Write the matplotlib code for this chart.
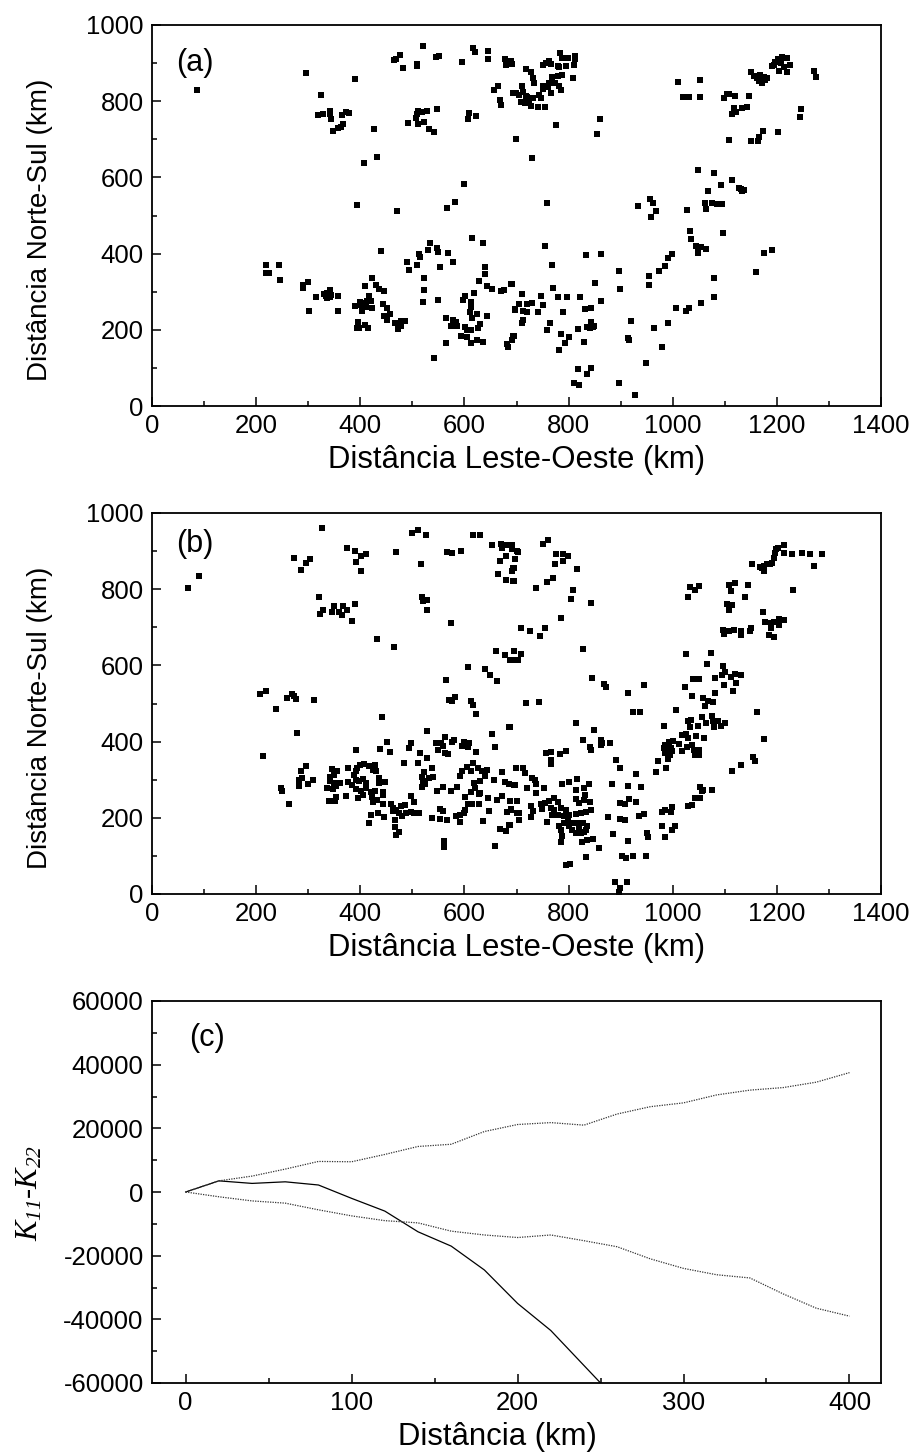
import matplotlib
matplotlib.use("Agg")
import matplotlib.pyplot as plt
from matplotlib.ticker import MultipleLocator

plt.rcParams['font.family'] = ['Liberation Sans', 'DejaVu Sans']
plt.rcParams['axes.unicode_minus'] = False
plt.rcParams['mathtext.fontset'] = 'custom'
plt.rcParams['mathtext.it'] = 'Liberation Serif:italic'
plt.rcParams['mathtext.rm'] = 'Liberation Serif:italic'

points_a = [
(86,829),(295,874),(389,858),(464,908),(468,912),(476,920),(482,888),(520,944),(508,893),(509,898),(545,916),(552,919),(595,904),(617,940),(621,929),(645,932),(646,911),(677,912),(689,906),(679,895),(692,897),
(324,816),(319,763),(329,766),(341,775),(342,766),(344,753),(364,764),(373,772),(379,768),(367,741),(363,732),(357,729),(348,722),(427,726),(433,654),(408,638),
(510,774),(509,766),(519,771),(528,773),(547,780),(492,744),(507,755),(511,739),(522,745),(532,726),(542,718),(609,769),(607,753),(622,761),(657,829),(664,840),(694,822),(699,821),(669,802),(671,789),(699,702),
(600,583),(581,536),(567,519),(393,528),(470,512),(614,441),(635,428),(219,371),(243,369),(219,348),(225,348),(245,330),
(440,406),(534,428),(531,410),(547,416),(549,405),(513,398),(514,391),(569,401),(490,377),(494,358),(508,369),(579,378),(554,364),(522,337),(523,305),(521,273),(549,278),
(639,364),(639,346),(628,329),(643,314),(653,307),(671,301),(676,305),(690,320),(619,296),(602,288),(598,278),(612,273),(612,261),(611,247),(625,242),(643,235),(614,232),
(300,326),(290,318),(290,309),(314,286),(301,250),(357,250),(358,290),(330,294),(334,288),(337,296),(342,305),(344,292),(337,283),(342,285),
(423,336),(410,315),(431,317),(436,308),(446,303),(390,263),(399,274),(408,270),(416,288),(421,276),(413,276),(401,264),(404,250),(422,257),(411,261),
(444,267),(452,257),(457,241),(445,236),(452,225),(467,219),(479,224),(485,222),(478,211),(473,202),(469,218),(395,220),(393,204),(398,206),(409,212),(415,204),
(565,230),(579,226),(584,220),(575,211),(585,210),(602,208),(605,200),(612,200),(629,215),(626,204),(593,183),(605,182),(613,165),(625,172),(635,169),(564,165),(542,126),
(697,253),(694,184),(692,173),(681,163),(683,155),
(783,926),(788,914),(798,914),(813,919),(812,910),(811,895),(796,893),(779,893),(782,891),(763,905),(756,899),(750,895),(766,897),(718,884),(728,876),(731,862),(733,849),(809,862),(788,869),(779,866),(769,864),(768,856),(763,847),(750,841),(750,832),(761,838),(774,847),(781,841),(785,829),(766,821),(743,816),(747,808),
(710,841),(696,822),(705,816),(713,823),(718,814),(708,797),(717,794),(724,803),(731,808),(728,788),(741,784),(755,786),(721,812),(775,738),(860,753),(855,715),(729,651),
(758,534),(754,421),(768,369),(833,397),(862,399),(896,354),(851,324),(899,307),(691,321),(770,310),(710,294),(747,289),(780,286),(797,285),(821,286),(698,254),(705,267),(721,268),(729,271),(750,266),(713,250),(720,246),(741,248),(790,246),(831,254),(844,258),(862,275),
(712,226),(710,218),(764,217),(759,199),(786,189),(801,182),(793,166),(781,147),(819,203),(830,169),(836,208),(844,220),(846,207),(841,206),(849,209),(695,185),
(818,98),(843,99),(835,85),(811,61),(820,54),(897,60),(928,30),(949,113),(979,156),(920,223),(964,205),(915,178),(916,174),(991,219),(1006,258),(1031,257),(1026,249),(1055,270),(1080,285),(1079,336),
(954,340),(954,317),(974,354),(985,368),(990,388),(998,399),(1034,459),(1035,439),(1045,419),(1055,418),(1064,413),(1049,407),(1049,401),(1096,453),(1159,351),(1175,402),(1191,410),
(1027,514),(1062,533),(1075,534),(1063,517),(1086,529),(1094,531),(1068,564),(1093,581),(1113,593),(1048,620),(1079,612),(1127,573),(1131,570),(1136,567),(1133,565),(956,544),(963,533),(934,524),(968,512),(958,496),
(1011,850),(1053,855),(1020,810),(1032,812),(1052,812),(1098,808),(1105,818),(1109,818),(1119,814),(1146,813),(1117,783),(1122,771),(1113,766),(1133,781),(1143,785),(1108,697),(1150,696),(1163,696),(1166,705),(1173,723),(1202,718),(1246,780),(1245,759),(1271,880),(1275,864),
(1151,876),(1156,867),(1162,860),(1168,869),(1175,864),(1178,856),(1172,847),(1165,853),(1181,860),(1170,856),(1197,904),(1194,895),(1210,917),(1220,914),(1202,911),(1207,899),(1226,895),(1220,877),(1204,879),(1213,891),(1191,893),
]

points_b = [
(70,802),(90,835),(327,960),(273,883),(304,878),(296,868),(287,851),(374,908),(390,899),(401,888),(411,892),(391,872),(401,847),(468,898),(500,947),(511,955),(527,942),(517,865),(567,898),(576,896),(593,901),(617,943),(629,941),(652,916),
(671,919),(676,917),(673,908),(688,917),(692,906),(679,886),(668,873),(697,879),(693,856),(692,847),(665,841),(679,823),(695,821),(701,899),
(320,779),(328,746),(323,735),(350,757),(366,757),(389,760),(345,739),(360,740),(374,746),(364,731),(385,716),(432,669),(465,648),(518,779),(521,768),(529,772),(529,745),(574,710),
(660,639),(677,627),(688,613),(696,638),(701,613),(607,595),(639,591),(650,576),(662,558),(565,561),(570,509),(577,506),(581,517),(612,506),(616,497),(623,473),
(207,524),(218,534),(239,486),(260,514),(269,525),(276,513),(273,519),(311,508),(278,423),(214,363),(442,464),(529,429),(653,419),(686,438),
(392,379),(438,381),(451,399),(457,374),(497,396),(494,382),(514,369),(528,357),(545,397),(555,396),(562,412),(558,388),(549,379),(580,405),(577,398),(563,370),(569,367),(599,399),(596,388),(609,397),(607,385),(622,373),(659,385),
(483,344),(511,344),(537,330),(523,319),(519,306),(521,296),(532,305),(539,307),(524,289),(519,280),(547,270),(559,280),(575,270),(585,280),
(296,335),(287,324),(289,304),(282,298),(282,284),(299,290),(310,298),(248,279),(250,271),(264,237),
(346,328),(355,324),(350,313),(341,306),(342,296),(350,291),(362,291),(337,278),(347,276),(354,283),(354,254),(339,245),(352,245),(373,258),
(377,332),(394,331),(399,338),(408,341),(417,335),(429,339),(392,322),(387,313),(431,322),(424,326),(435,304),(436,291),(447,294),(376,294),(384,285),(392,300),(398,296),(405,303),(411,291),(392,276),(401,270),(411,278),(406,259),(395,252),(420,268),(429,271),(443,268),(422,254),(443,261),(433,248),(424,241),(444,235),
(459,237),(462,226),(468,221),(478,230),(486,233),(462,217),(475,213),(481,204),(487,213),(497,215),(504,213),(513,213),(498,256),(504,241),(420,207),(434,212),(446,202),(416,186),(466,193),(466,175),(475,162),(468,154),
(537,200),(553,224),(558,217),(553,198),(566,195),(583,206),(591,208),(599,213),(602,221),(606,235),(615,236),(628,237),(602,255),(628,263),(592,189),(560,140),(560,123),(635,191),(647,218),(658,125),(669,171),(679,166),(686,181),
(591,309),(596,322),(604,333),(617,343),(612,322),(627,331),(634,322),(644,326),(640,309),(629,296),(618,291),(620,278),(612,268),(629,265),(645,252),
(673,320),(656,298),(677,294),(685,289),(697,287),(699,332),(663,247),(673,258),(688,244),(700,244),(682,215),(690,223),(701,213),
(761,929),(751,918),(691,917),(702,897),(697,879),(695,856),(694,822),(775,893),(790,893),(798,888),(790,873),(774,865),(817,853),(770,830),(758,820),(737,802),(809,797),(805,773),(843,763),(786,725),
(709,699),(726,689),(745,678),(755,697),(827,644),(696,639),(708,630),(702,613),(689,613),(845,568),(868,552),(871,544),(914,528),(944,549),(924,477),(938,477),(719,501),(744,505),
(814,448),(849,430),(828,404),(841,386),(843,379),(862,405),(865,396),(879,397),(862,392),(756,369),(767,372),(766,353),(766,342),(784,367),(796,375),(688,438),
(699,332),(713,332),(716,318),(729,304),(736,300),(737,289),(696,287),(720,278),(738,264),(752,277),(700,244),(689,221),(705,213),(705,195),(728,230),(732,219),(728,201),(688,182),
(748,236),(755,239),(749,224),(763,245),(772,252),(780,241),(759,188),(766,226),(772,221),(785,226),(795,221),(769,208),(779,208),(791,204),(801,208),(782,178),(791,186),(798,195),(785,169),(801,178),(807,186),(817,186),(827,186),(836,178),(834,169),(814,160),(823,160),(830,164),(820,173),(807,169),
(787,151),(786,136),(825,136),(836,143),(847,144),(858,121),(834,97),(796,75),(803,78),(788,290),(800,295),(817,303),(839,290),(815,273),(830,277),(832,261),(814,249),(820,239),(830,248),(841,241),(843,221),(833,214),(823,213),(814,210),
(883,289),(914,283),(940,280),(930,314),(891,351),(899,332),(971,350),(988,332),(967,320),(898,239),(908,236),(916,250),(930,242),(876,202),(899,198),(909,195),(935,206),(944,211),(885,157),(914,140),(950,160),(953,150),(902,100),(910,94),(923,99),(949,101),(890,32),(912,32),(899,16),(896,5),
(980,178),(1004,178),(998,169),(986,150),(979,214),(986,221),(999,228),(997,214),(1029,230),(1037,234),(1043,252),(1052,252),(1057,270),(1052,281),(1059,274),(1075,274),(1113,323),(1131,338),(1154,360),(1158,348),(1176,407),(1161,477),(983,442),(1007,482),
(986,392),(993,399),(1000,402),(1012,394),(983,383),(990,379),(996,383),(986,370),(994,366),(999,375),(991,355),(1017,417),(1025,420),(1029,410),(1044,416),(1061,409),(1018,375),(1027,385),(1037,392),(1041,379),(1051,379),(1043,364),(1051,364),
(1029,455),(1036,458),(1033,438),(1057,465),(1049,442),(1063,449),(1075,468),(1077,453),(1079,438),(1087,453),(1092,440),(1100,449),(1023,542),(1039,563),(1050,563),(1025,629),(1073,632),(1066,604),(1037,519),(1058,514),(1067,506),(1078,503),(1062,493),
(1082,567),(1095,574),(1101,582),(1096,598),(1111,569),(1119,578),(1132,576),(1122,554),(1098,548),(1082,528),(1116,532),(1029,780),(1033,806),(1043,799),(1050,808),(1108,812),(1120,817),(1112,794),(1145,811),(1138,780),(1105,761),(1114,758),(1108,745),
(1097,694),(1098,683),(1108,689),(1117,694),(1132,691),(1131,681),(1151,698),(1149,690),(1174,741),(1178,713),(1188,711),(1194,714),(1204,723),(1214,719),(1204,707),(1188,698),(1184,680),(1195,675),
(1153,866),(1167,858),(1175,860),(1181,865),(1191,869),(1172,856),(1176,847),(1194,882),(1197,895),(1199,906),(1213,917),(1213,895),(1230,893),(1248,895),(1264,893),(1287,892),(1271,861),(1231,798),(1186,866),(1202,908),
]

solid_x = [0,20,40,60,80,100,120,140,160,180,200,220,240,250]
solid_y = [0,3500,2700,3200,2200,-2000,-6000,-12500,-17000,-24500,-35000,-43500,-54500,-60000]
dist = [0,20,40,60,80,100,120,140,160,180,200,220,240,260,280,300,320,340,360,380,400]
upper = [0,3500,5000,7200,9600,9500,11800,14300,15000,19000,21200,21800,21000,24500,26800,28000,30500,32000,32800,34500,37500]
lower = [0,-1500,-2800,-3500,-5600,-7500,-9000,-9700,-12300,-13500,-14300,-13500,-15300,-17200,-21000,-24000,-26000,-27000,-32000,-36500,-39000]

W, H = 915, 1452
fig = plt.figure(figsize=(W/100, H/100), dpi=100)

def make_axes(left, top, right, bottom):
    ax = fig.add_axes([left/W, 1-bottom/H, (right-left)/W, (bottom-top)/H])
    for s in ax.spines.values():
        s.set_linewidth(1.3)
    ax.tick_params(which='major', direction='in', length=6.8, width=1.1, labelsize=18.5, top=False, right=False, pad=6)
    ax.tick_params(which='minor', direction='in', length=3.6, width=1.1, top=False, right=False)
    return ax

def scatter_panel(ax, pts, label, tx, ty):
    ax.plot([p[0] for p in pts], [p[1] for p in pts], ls='none', marker='s', ms=4.1, mfc='black', mec='black', mew=0)
    ax.set_xlim(0, 1400); ax.set_ylim(0, 1000)
    ax.xaxis.set_major_locator(MultipleLocator(200)); ax.xaxis.set_minor_locator(MultipleLocator(100))
    ax.yaxis.set_major_locator(MultipleLocator(200)); ax.yaxis.set_minor_locator(MultipleLocator(100))
    ax.set_xlabel('Distância Leste-Oeste (km)', fontsize=22.4, va='baseline')
    ax.xaxis.set_label_coords(0.4995, -62/381)
    ax.set_ylabel('Distância Norte-Sul (km)', fontsize=20)
    ax.yaxis.set_label_coords(-99/729, 0.462)
    ax.text(tx, ty, label, fontsize=22, va='center', ha='left')

ax_a = make_axes(152, 25, 881, 406)
scatter_panel(ax_a, points_a, '(a)', 46, 900)
ax_b = make_axes(152, 513, 881, 894)
scatter_panel(ax_b, points_b, '(b)', 47, 918)

ax_c = make_axes(152, 1001, 881, 1383)
ax_c.plot(solid_x, solid_y, color='black', lw=0.9)
ax_c.plot(dist, upper, color='#333333', lw=0.9, ls=(0, (1, 1)))
ax_c.plot(dist, lower, color='#333333', lw=0.9, ls=(0, (1, 1)))
ax_c.set_xlim(-20.3, 419); ax_c.set_ylim(-60000, 60000)
ax_c.xaxis.set_major_locator(MultipleLocator(100)); ax_c.xaxis.set_minor_locator(MultipleLocator(50))
ax_c.yaxis.set_major_locator(MultipleLocator(20000)); ax_c.yaxis.set_minor_locator(MultipleLocator(10000))
ax_c.set_xlabel('Distância (km)', fontsize=22.4, va='baseline')
ax_c.xaxis.set_label_coords((497-152)/729, -62/382)
ax_c.text(2, 48300, '(c)', fontsize=22, va='center', ha='left')
fig.text(30/W, 1-1193/H, r'$K_{11}$-$K_{22}$', rotation=90, fontsize=22, ha='center', va='center',
         family=['Liberation Serif'])

fig.savefig('out.png', dpi=100)
